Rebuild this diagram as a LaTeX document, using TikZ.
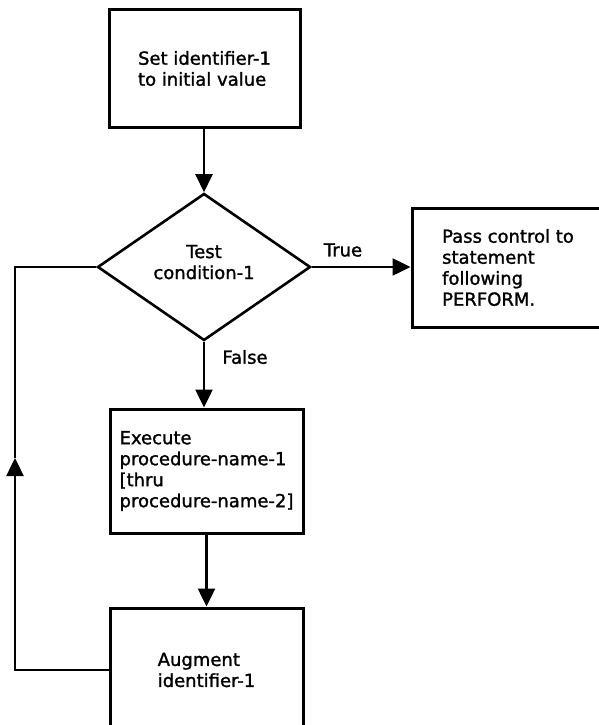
\documentclass[tikz,border=0pt]{standalone}
\usepackage{fontspec}
\setmainfont{DejaVu Sans}[FakeBold=1.4]
\usetikzlibrary{shapes.geometric,arrows.meta}
\begin{document}
\begin{tikzpicture}[x=1pt,y=-1pt,
  font=\fontsize{18}{21}\selectfont,
  every node/.style={inner sep=0pt,text=black},
  stepbox/.style={draw,line width=3pt,rectangle,align=left},
  testbox/.style={draw,line width=2.6pt,diamond,aspect=1.45,align=center,
    minimum width=213pt,minimum height=147pt},
  line/.style={line width=2.5pt},
  conn/.style={line,-{Triangle[length=18pt,width=17pt]}},
  lbl/.style={anchor=center}]
\clip (0,0) rectangle (599,725);
\fill[white] (0,0) rectangle (599,725);

% process boxes
\node[stepbox,minimum width=191pt,minimum height=117pt] (init) at (204.5,68.5)
  {Set identifier-1\\to initial value};
\node[testbox] (test) at (204,267)
  {Test\\condition-1\rule[-10pt]{0pt}{10pt}};
\node[stepbox,minimum width=192pt,minimum height=119pt] (pass) at (508,267.5)
  {Pass control to\\statement\\following\\PERFORM.};
\node[stepbox,minimum width=193pt,minimum height=124pt] (exec) at (206.5,471)
  {Execute\\procedure-name-1\\{[}thru\\procedure-name-2]};
\node[stepbox,minimum width=193pt,minimum height=124pt] (aug) at (206.5,670)
  {Augment\\identifier-1};

% branch labels
\node[lbl] (true) at (343,250) {True};
\node[lbl] (false) at (245,357) {False};

% loop path on the left
\coordinate (lmid) at (15,458);

% connectors
\draw[conn] (init.south -| test.north) -- (test.north);
\draw[conn] (test.east) -- (test.east -| pass.west);
\draw[conn] (test.south) -- (test.south |- exec.north);
\draw[conn] (exec.south) -- (aug.north);
\draw[conn] (aug.west) -| (lmid);
\draw[line] (lmid) |- (test.west);
\end{tikzpicture}
\end{document}
